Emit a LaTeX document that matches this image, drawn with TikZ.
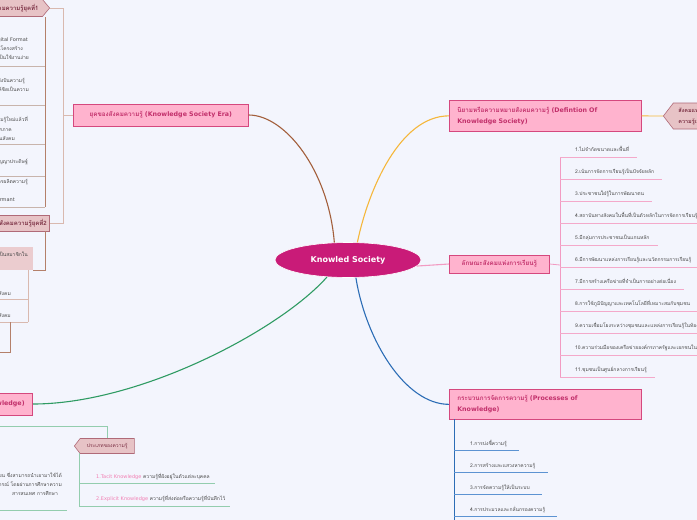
\documentclass[tikz,border=0pt]{standalone}
\usepackage{fontspec}
\setmainfont{DejaVu Sans}
\newfontfamily\thai[Script=Thai]{Loma}
\newfontfamily\lat{DejaVu Sans}
\usetikzlibrary{calc,shapes.geometric,shapes.symbols}
\definecolor{bgc}{HTML}{F3F5FD}
\definecolor{hub}{HTML}{C91B78}
\definecolor{boxf}{HTML}{FFB3CE}
\definecolor{boxd}{HTML}{D5487E}
\definecolor{boxt}{HTML}{C2306B}
\definecolor{tagf}{HTML}{E7C3C6}
\definecolor{tagd}{HTML}{B06A78}
\definecolor{tagt}{HTML}{7A2E42}
\definecolor{itt}{HTML}{4A4A4A}
\definecolor{brownl}{HTML}{A35F3C}
\definecolor{orangel}{HTML}{F5B73B}
\definecolor{pinkl}{HTML}{F29BC2}
\definecolor{pinkul}{HTML}{F4A9CA}
\definecolor{bluel}{HTML}{2C6DB6}
\definecolor{bluel2}{HTML}{5C93D2}
\definecolor{greenl}{HTML}{2F9B63}
\definecolor{greenl2}{HTML}{93CDAE}
\definecolor{tanl}{HTML}{D9B9AF}
\definecolor{tanl2}{HTML}{B4806A}
\definecolor{tanl3}{HTML}{C8B4AC}
\definecolor{tacit}{HTML}{F27FB3}
\begin{document}
\begin{tikzpicture}[x=1pt,y=-1pt,
 hubst/.style={ellipse, fill=hub, draw=white, line width=0.6pt, minimum width=146pt, minimum height=35pt, inner sep=0pt, text=white, font=\lat\bfseries\fontsize{8}{9}\selectfont},
 mainbox/.style={draw=boxd, fill=boxf, line width=0.7pt, text=boxt, font=\thai\bfseries\fontsize{6.3}{11}\selectfont, inner sep=0pt},
 tagst/.style={draw=tagd, fill=tagf, line width=0.6pt, text=tagt, inner sep=0pt, font=\thai\bfseries\fontsize{6}{8}\selectfont},
 itm/.style={text=itt, font=\thai\fontsize{5}{9}\selectfont, inner sep=0pt},
 mainln/.style={line width=1.1pt},
 subln/.style={line width=0.8pt}]
\useasboundingbox (0,0) rectangle (697,520);
\clip (0,0) rectangle (697,520);
\fill[bgc] (0,0) rectangle (697,520);

% hub
\node[hubst] (ks) at (348,260) {Knowled Society};

% main boxes
\node[mainbox, anchor=west, minimum width=175pt, minimum height=22pt] (era) at (73,115) {ยุคของสังคมความรู้ {\lat(Knowledge Society Era)}};
\node[mainbox, anchor=north west, minimum height=31pt, text width=176pt, align=left, inner xsep=8pt] (def) at (449,100) {นิยามหรือความหมายสังคมความรู้ {\lat(Defintion Of}\\{\lat Knowledge Society)}};
\node[mainbox, anchor=west, minimum width=100pt, minimum height=18pt] (chr) at (449,264) {ลักษณะสังคมแห่งการเรียนรู้};
\node[mainbox, anchor=north west, minimum height=30pt, text width=176pt, align=left, inner xsep=8pt] (proc) at (449,389) {กระบวนการจัดการความรู้ {\lat(Processes of}\\{\lat Knowledge)}};
\node[mainbox, anchor=east, minimum height=22pt, inner xsep=8pt] (typ) at (33,404) {ประเภทของความรู้ {\lat(Types of Knowledge)}};

% main connectors
\draw[brownl, mainln] (era.east) .. controls +(36,0) and +(-6,-73) .. (ks.128);
\draw[orangel, mainln] (ks.62) .. controls +(11,-53) and +(-49,0) .. (def.west);
\draw[pinkl, mainln] (ks.-5) -- (chr.west);
\draw[bluel, mainln] (ks.-66) .. controls +(10,62) and +(-44,0) .. (proc.west);
\draw[greenl, mainln] (ks.219) .. controls +(-47,53) and +(107,0) .. (typ.east);

% definition tag
\node[tagst, signal, signal to=west, signal pointer angle=105, anchor=west, minimum height=26pt, align=left, inner xsep=5pt, font=\thai\bfseries\fontsize{5.5}{11}\selectfont] (dtag) at (663,116) {สังคมแห่งการเรียนรู้ หมายถึงสังคม\\ความรู้เป็นสิ่งสำคัญที่สุด};
\draw[orangel, subln] (def.east) -- (dtag.west);

% characteristics list
\coordinate (ctr) at (560,265);
\coordinate (ctop) at (560,157);
\coordinate (cbot) at (560,377);
\draw[pinkl, subln] (chr.east) -- (ctr);
\draw[pinkl, subln] (ctop) -- (cbot);
\foreach \i/\t in {
1/{1.ไม่จำกัดขนาดและพื้นที่},
2/{2.เน้นการจัดการเรียนรู้เป็นปัจจัยหลัก},
3/{3.ประชาชนใฝ่รู้ในการพัฒนาตน},
4/{4.สถาบันทางสังคมในพื้นที่เป็นตัวหลักในการจัดการเรียนรู้},
5/{5.มีกลุ่มการประชาชนเป็นแกนหลัก},
6/{6.มีการพัฒนาแหล่งการเรียนรู้และนวัตกรรมการเรียนรู้},
7/{7.มีการสร้างเครือข่ายที่จำเป็นการอย่างต่อเนื่อง},
8/{8.การใช้ภูมิปัญญาและเทคโนโลยีที่เหมาะสมกับชุมชน},
9/{9.ความเชื่อมโยงระหว่างชุมชนและแหล่งการเรียนรู้ในท้องถิ่น},
10/{10.ความร่วมมือของเครือข่ายองค์กรภาครัฐและเอกชนในชุมชน},
11/{11.ชุมชนเป็นศูนย์กลางการเรียนรู้}}{
 \coordinate (cj\i) at (560,{135+22*\i});
 \node[itm, anchor=base west] (ci\i) at (575,{129+22*\i}) {\t};
 \draw[pinkul, subln] (cj\i) -- ($(ci\i.base east)+(8,6)$);
}

% processes list
\coordinate (ptop) at (454,419);
\coordinate (pend) at (454,525);
\draw[bluel, subln] (ptop) -- (pend);
\foreach \i/\t in {
1/{1.การบ่งชี้ความรู้},
2/{2.การสร้างและแสวงหาความรู้},
3/{3.การจัดความรู้ให้เป็นระบบ},
4/{4.การประมวลและกลั่นกรองความรู้}}{
 \coordinate (pj\i) at (454,{428+22*\i});
 \node[itm, anchor=base west] (pi\i) at (470,{423+22*\i}) {\t};
 \draw[bluel2, subln] (pj\i) -- ($(pi\i.base east)+(12,5)$);
}

% upper-left: era tags
\node[tagst, signal, signal to=east, signal pointer angle=100, anchor=east, minimum height=17pt, inner xsep=4pt] (t1) at (50,8) {ลักษณะของสังคมความรู้ยุคที่1};
\node[tagst, rectangle, anchor=east, minimum height=16pt, inner xsep=3pt] (t2) at (50,223) {ลักษณะของสังคมความรู้ยุคที่2};
\coordinate (ej) at (63,115);
\draw[tanl, subln] (era.west) -- (ej);
\draw[tanl, subln] (t1.east) -| (ej);
\draw[tanl, subln] (t2.east) -| (ej);

% items under tag 1
\coordinate (t1b) at (45,17);
\coordinate (t1e) at (45,207);
\draw[tanl2, subln] (t1b) -- (t1e);
\foreach \i/\yy in {1/66,2/105,3/144,4/176,5/207}{
 \coordinate (ua\i) at (45,\yy);
 \coordinate (ub\i) at (-5,\yy);
 \draw[tanl3, subln] (ua\i) -- (ub\i);
}
\node[itm, anchor=base east] (a11) at (28,41) {ข้อมูลถูกจัดเก็บในรูปแบบ {\lat Digital Format}};
\node[itm, anchor=base east] (a12) at (23,50) {มีการเชื่อมโยงเป็นโครงสร้าง};
\node[itm, anchor=base east] (a13) at (29,59) {ทำให้การค้นหาข้อมูลเป็นใช้งานง่าย};
\node[itm, anchor=base east] (a21) at (25,82) {มีการแลกเปลี่ยนและแบ่งปันความรู้};
\node[itm, anchor=base east] (a22) at (29,91) {ระหว่างบุคคลอย่างใกล้ชิดเป็นความ};
\node[itm, anchor=base east] (a31) at (28,121) {มีการสร้างองค์ความรู้ใหม่แล้วที่};
\node[itm, anchor=base east] (a32) at (12,131) {ทุกภาค};
\node[itm, anchor=base east] (a33) at (15,140) {ของทุกภาคส่วนสังคม};
\node[itm, anchor=base east] (a41) at (28,163) {การใช้ปัญญาประดิษฐ์};
\node[itm, anchor=base east] (a51) at (28,183) {การใช้เทคโนโลยีในการผลิตความรู้};
\node[itm, anchor=base east] (a52) at (15,201) {{\lat Informant}};

% items under tag 2
\node[fill=tagf!85, anchor=north east, minimum height=23pt, inner xsep=5pt, inner ysep=3pt, align=left, font=\thai\fontsize{5}{9}\selectfont, text=itt] (b2) at (33,247) {ผู้คนในสังคมมีความรู้และเป็นสมาชิกใน\\ };
\coordinate (t2b) at (45,231);
\draw[tanl2, subln] (t2b) |- (b2.south east);
\coordinate (b2t) at (28,270);
\coordinate (b2e) at (28,322);
\draw[tanl, subln] (b2t) -- (b2e);
\coordinate (bu1) at (-5,299);
\coordinate (bj1) at (28,299);
\coordinate (bu2) at (-5,322);
\draw[tanl, subln] (bj1) -- (bu1);
\draw[tanl, subln] (b2e) -- (bu2);
\node[itm, anchor=base east] (b21) at (11,295) {ความรู้ของสมาชิกในสังคม};
\node[itm, anchor=base east] (b22) at (11,317) {ภูมิปัญญาของสังคม};
\coordinate (bx1) at (10,322);
\coordinate (bx2) at (10,352);
\coordinate (bx3) at (-5,352);
\draw[tanl2, subln] (bx1) -- (bx2) -- (bx3);

% bottom-left: types of knowledge
\node[tagst, signal, signal to=west, signal pointer angle=105, anchor=west, minimum height=15pt, minimum width=60pt, inner xsep=3pt, font=\thai\fontsize{5}{6}\selectfont] (tk) at (74,446) {ประเภทของความรู้};
\coordinate (gl) at (-5,426);
\draw[greenl2, subln] (gl) -| (tk.north);
\coordinate (tkb) at (79,453);
\coordinate (tke) at (79,506);
\draw[greenl2, subln] (tkb) -- (tke);
\node[itm, anchor=base west] (k1) at (96,478) {{\lat\color{tacit}1.Tacit Knowledge} ความรู้ที่ฝังอยู่ในตัวแต่ละบุคคล};
\node[itm, anchor=base west] (k2) at (96,500) {{\lat\color{tacit}2.Explicit Knowledge} ความรู้ที่ส่งต่อหรือความรู้ที่บันทึกไว้};
\coordinate (kj1) at (79,483);
\draw[greenl2, subln] (kj1) -- ($(k1.base east)+(5,5)$);
\draw[greenl2, subln] (tke) -- ($(k2.base east)+(4,6)$);

\node[itm, anchor=base east] (g1) at (62,477) {ความรู้ที่ได้จากการเรียน ซึ่งสามารถนำเอามาใช้ได้};
\node[itm, anchor=base east] (g2) at (62,486) {ที่ได้จากประสบการณ์ โดยผ่านการศึกษาความ};
\node[itm, anchor=base] (g3) at (35,495) {สารสนเทศ การศึกษา};
\coordinate (gu1) at (-5,510);
\coordinate (gu2) at (67,510);
\draw[greenl2, subln] (gu1) -- (gu2);
\end{tikzpicture}
\end{document}
